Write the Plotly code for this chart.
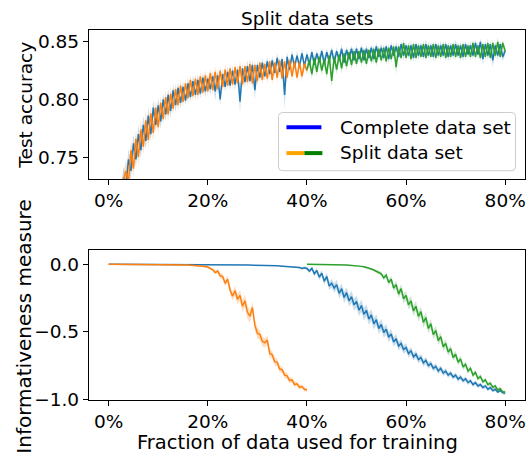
import numpy as np
import plotly.graph_objects as go

# ---------------- data ----------------
# x = fraction of data used for training, in percent
x_ticks = [0, 20, 40, 60, 80]
x_tick_labels = ["0%", "20%", "40%", "60%", "80%"]

# Test accuracy, complete data set (0% .. 80%, step 0.5%)
acc_complete = [
    0.560, 0.600, 0.640, 0.670, 0.695, 0.715, 0.732, 0.726, 0.748, 0.738,
    0.762, 0.748, 0.770, 0.756, 0.778, 0.764, 0.786, 0.770, 0.793, 0.778,
    0.795, 0.781, 0.800, 0.787, 0.804, 0.790, 0.808, 0.795, 0.810, 0.797,
    0.811, 0.799, 0.814, 0.802, 0.816, 0.804, 0.817, 0.805, 0.819, 0.807,
    0.818, 0.809, 0.820, 0.807, 0.821, 0.800, 0.822, 0.811, 0.824, 0.812,
    0.825, 0.813, 0.826, 0.798, 0.827, 0.815, 0.829, 0.816, 0.830, 0.808,
    0.830, 0.819, 0.832, 0.820, 0.833, 0.822, 0.834, 0.823, 0.836, 0.824,
    0.835, 0.804, 0.837, 0.826, 0.839, 0.828, 0.838, 0.829, 0.840, 0.829,
    0.839, 0.830, 0.841, 0.830, 0.840, 0.832, 0.842, 0.831, 0.841, 0.833,
    0.843, 0.832, 0.842, 0.834, 0.844, 0.832, 0.843, 0.835, 0.844, 0.834,
    0.844, 0.835, 0.845, 0.834, 0.844, 0.836, 0.845, 0.835, 0.846, 0.837,
    0.845, 0.836, 0.846, 0.835, 0.847, 0.838, 0.846, 0.837, 0.848, 0.838,
    0.847, 0.838, 0.847, 0.836, 0.848, 0.838, 0.847, 0.837, 0.848, 0.838,
    0.847, 0.837, 0.848, 0.838, 0.847, 0.838, 0.848, 0.837, 0.847, 0.838,
    0.848, 0.838, 0.847, 0.837, 0.848, 0.839, 0.847, 0.838, 0.849, 0.839,
    0.850, 0.835, 0.848, 0.838, 0.848, 0.834, 0.847, 0.838, 0.848, 0.837,
    0.842,
]
acc_complete_std = [
    0.010, 0.010, 0.010, 0.010, 0.009, 0.009, 0.009, 0.008, 0.009, 0.008,
    0.008, 0.007, 0.008, 0.007, 0.008, 0.007, 0.007, 0.006, 0.007, 0.006,
    0.006, 0.007, 0.005, 0.006, 0.005, 0.006, 0.005, 0.006, 0.005, 0.005,
    0.005, 0.004, 0.005, 0.004, 0.005, 0.004, 0.005, 0.004, 0.004, 0.005,
    0.004, 0.005, 0.004, 0.008, 0.004, 0.005, 0.004, 0.004, 0.005, 0.004,
    0.004, 0.005, 0.004, 0.009, 0.004, 0.004, 0.005, 0.004, 0.004, 0.008,
    0.004, 0.003, 0.004, 0.003, 0.004, 0.003, 0.004, 0.003, 0.004, 0.003,
    0.004, 0.012, 0.004, 0.003, 0.004, 0.003, 0.004, 0.003, 0.004, 0.003,
    0.003, 0.004, 0.003, 0.004, 0.003, 0.004, 0.003, 0.004, 0.003, 0.004,
    0.003, 0.004, 0.003, 0.003, 0.004, 0.003, 0.003, 0.004, 0.003, 0.003,
    0.003, 0.004, 0.003, 0.003, 0.004, 0.003, 0.003, 0.004, 0.003, 0.003,
    0.004, 0.003, 0.003, 0.004, 0.003, 0.003, 0.004, 0.003, 0.003, 0.004,
    0.003, 0.003, 0.004, 0.003, 0.003, 0.004, 0.003, 0.003, 0.004, 0.003,
    0.003, 0.004, 0.003, 0.003, 0.004, 0.003, 0.003, 0.004, 0.003, 0.003,
    0.004, 0.003, 0.003, 0.004, 0.003, 0.003, 0.004, 0.003, 0.003, 0.004,
    0.003, 0.005, 0.003, 0.004, 0.003, 0.006, 0.003, 0.004, 0.003, 0.004,
    0.003,
]

# Test accuracy, split data set, first half (0% .. 40%)
acc_split_a = [
    0.550, 0.595, 0.635, 0.668, 0.690, 0.712, 0.730, 0.738, 0.728, 0.756,
    0.740, 0.766, 0.750, 0.774, 0.759, 0.782, 0.765, 0.788, 0.771, 0.793,
    0.776, 0.797, 0.783, 0.802, 0.787, 0.805, 0.792, 0.809, 0.795, 0.812,
    0.798, 0.814, 0.801, 0.817, 0.803, 0.818, 0.804, 0.820, 0.806, 0.821,
    0.807, 0.823, 0.808, 0.824, 0.809, 0.825, 0.811, 0.826, 0.812, 0.827,
    0.813, 0.828, 0.814, 0.829, 0.813, 0.829, 0.815, 0.831, 0.814, 0.830,
    0.816, 0.832, 0.817, 0.831, 0.818, 0.833, 0.817, 0.832, 0.819, 0.834,
    0.818, 0.833, 0.819, 0.834, 0.820, 0.833, 0.819, 0.832, 0.820, 0.831,
    0.825,
]
acc_split_a_std = [
    0.010, 0.010, 0.010, 0.010, 0.010, 0.009, 0.009, 0.009, 0.008, 0.009,
    0.008, 0.008, 0.007, 0.008, 0.007, 0.008, 0.007, 0.006, 0.007, 0.006,
    0.006, 0.006, 0.005, 0.006, 0.005, 0.006, 0.005, 0.005, 0.005, 0.005,
    0.005, 0.004, 0.005, 0.004, 0.005, 0.004, 0.005, 0.004, 0.004, 0.005,
    0.004, 0.004, 0.004, 0.005, 0.004, 0.004, 0.004, 0.005, 0.004, 0.004,
    0.004, 0.004, 0.004, 0.005, 0.004, 0.004, 0.004, 0.004, 0.004, 0.004,
    0.004, 0.003, 0.004, 0.003, 0.004, 0.003, 0.004, 0.003, 0.004, 0.003,
    0.004, 0.003, 0.004, 0.003, 0.004, 0.003, 0.004, 0.003, 0.004, 0.003,
    0.003,
]

# Test accuracy, split data set, second half (40% .. 80%)
acc_split_b = [
    0.826, 0.834, 0.822, 0.836, 0.824, 0.837, 0.825, 0.835, 0.822, 0.838,
    0.816, 0.837, 0.826, 0.839, 0.827, 0.840, 0.829, 0.841, 0.830, 0.842,
    0.831, 0.842, 0.832, 0.843, 0.831, 0.843, 0.833, 0.844, 0.832, 0.844,
    0.834, 0.845, 0.833, 0.845, 0.835, 0.846, 0.828, 0.846, 0.836, 0.849,
    0.836, 0.847, 0.835, 0.848, 0.836, 0.847, 0.837, 0.848, 0.836, 0.847,
    0.837, 0.848, 0.836, 0.847, 0.837, 0.848, 0.836, 0.847, 0.837, 0.848,
    0.837, 0.847, 0.836, 0.848, 0.837, 0.847, 0.837, 0.849, 0.837, 0.847,
    0.836, 0.848, 0.837, 0.849, 0.836, 0.849, 0.838, 0.850, 0.837, 0.849,
    0.842,
]
acc_split_b_std = [
    0.004, 0.004, 0.004, 0.004, 0.004, 0.004, 0.004, 0.004, 0.004, 0.004,
    0.006, 0.004, 0.004, 0.004, 0.004, 0.004, 0.004, 0.004, 0.004, 0.004,
    0.003, 0.003, 0.003, 0.003, 0.003, 0.003, 0.003, 0.003, 0.003, 0.003,
    0.003, 0.003, 0.003, 0.003, 0.003, 0.003, 0.006, 0.003, 0.003, 0.004,
    0.003, 0.003, 0.003, 0.003, 0.003, 0.003, 0.003, 0.003, 0.003, 0.003,
    0.003, 0.003, 0.003, 0.003, 0.003, 0.003, 0.003, 0.003, 0.003, 0.003,
    0.003, 0.003, 0.003, 0.003, 0.003, 0.003, 0.003, 0.003, 0.003, 0.003,
    0.003, 0.003, 0.003, 0.004, 0.003, 0.003, 0.003, 0.004, 0.003, 0.003,
    0.003,
]

# Informativeness measure, complete data set (0% .. 80%)
info_complete = [
    0.000, 0.000, 0.000, 0.000, 0.000, 0.000, 0.000, 0.000, 0.000, 0.000,
    0.000, 0.000, 0.000, 0.000, 0.000, 0.000, 0.000, 0.000, 0.000, 0.000,
    0.000, 0.000, 0.000, 0.000, 0.000, 0.000, 0.000, 0.000, -0.001, -0.001,
    -0.001, -0.001, -0.001, -0.001, -0.001, -0.001, -0.001, -0.001, -0.002, -0.002,
    -0.002, -0.002, -0.002, -0.002, -0.002, -0.003, -0.003, -0.003, -0.003, -0.003,
    -0.003, -0.004, -0.004, -0.004, -0.004, -0.005, -0.005, -0.005, -0.006, -0.006,
    -0.006, -0.007, -0.007, -0.008, -0.008, -0.009, -0.009, -0.010, -0.011, -0.012,
    -0.013, -0.014, -0.015, -0.016, -0.018, -0.020, -0.022, -0.024, -0.030, -0.026,
    -0.030, -0.050, -0.030, -0.070, -0.045, -0.095, -0.065, -0.125, -0.090, -0.160,
    -0.140, -0.175, -0.150, -0.215, -0.180, -0.245, -0.210, -0.270, -0.240, -0.300,
    -0.275, -0.340, -0.305, -0.370, -0.340, -0.405, -0.375, -0.440, -0.410, -0.475,
    -0.445, -0.505, -0.480, -0.540, -0.515, -0.575, -0.550, -0.605, -0.585, -0.630,
    -0.615, -0.660, -0.640, -0.685, -0.665, -0.705, -0.690, -0.730, -0.710, -0.750,
    -0.735, -0.770, -0.755, -0.790, -0.770, -0.805, -0.790, -0.820, -0.805, -0.835,
    -0.820, -0.850, -0.835, -0.862, -0.848, -0.875, -0.862, -0.890, -0.875, -0.900,
    -0.890, -0.912, -0.900, -0.925, -0.912, -0.935, -0.925, -0.945, -0.935, -0.950,
    -0.955,
]
info_complete_std = [
    0.000, 0.000, 0.000, 0.000, 0.000, 0.000, 0.000, 0.000, 0.000, 0.000,
    0.000, 0.000, 0.000, 0.000, 0.000, 0.000, 0.000, 0.000, 0.000, 0.000,
    0.000, 0.000, 0.000, 0.000, 0.000, 0.000, 0.000, 0.000, 0.000, 0.000,
    0.000, 0.000, 0.000, 0.000, 0.000, 0.000, 0.000, 0.000, 0.000, 0.000,
    0.000, 0.000, 0.000, 0.000, 0.000, 0.000, 0.000, 0.000, 0.000, 0.000,
    0.000, 0.000, 0.000, 0.000, 0.000, 0.000, 0.000, 0.000, 0.000, 0.000,
    0.000, 0.000, 0.000, 0.000, 0.000, 0.000, 0.000, 0.000, 0.000, 0.000,
    0.001, 0.001, 0.002, 0.002, 0.003, 0.004, 0.005, 0.006, 0.008, 0.010,
    0.012, 0.014, 0.016, 0.018, 0.020, 0.022, 0.024, 0.026, 0.028, 0.030,
    0.032, 0.034, 0.036, 0.038, 0.040, 0.040, 0.042, 0.042, 0.044, 0.044,
    0.045, 0.045, 0.045, 0.045, 0.044, 0.044, 0.043, 0.042, 0.041, 0.040,
    0.040, 0.039, 0.038, 0.037, 0.036, 0.035, 0.034, 0.033, 0.032, 0.031,
    0.030, 0.030, 0.029, 0.028, 0.028, 0.027, 0.026, 0.026, 0.025, 0.025,
    0.024, 0.024, 0.023, 0.023, 0.022, 0.022, 0.021, 0.021, 0.020, 0.020,
    0.020, 0.019, 0.019, 0.018, 0.018, 0.018, 0.017, 0.017, 0.016, 0.016,
    0.016, 0.015, 0.015, 0.015, 0.014, 0.014, 0.014, 0.013, 0.013, 0.013,
    0.012,
]

# Informativeness measure, split data set, first half (0% .. 40%)
info_split_a = [
    0.000, 0.000, 0.000, 0.000, 0.000, 0.000, 0.000, 0.000, 0.000, 0.000,
    0.000, 0.000, 0.000, 0.000, 0.000, 0.000, 0.000, 0.000, 0.000, 0.000,
    0.000, 0.000, -0.001, -0.001, -0.001, -0.001, -0.002, -0.002, -0.002, -0.003,
    -0.003, -0.004, -0.005, -0.006, -0.007, -0.008, -0.010, -0.011, -0.013, -0.016,
    -0.020, -0.030, -0.040, -0.060, -0.050, -0.085, -0.090, -0.140, -0.110, -0.190,
    -0.235, -0.195, -0.260, -0.230, -0.310, -0.270, -0.355, -0.385, -0.320, -0.450,
    -0.510, -0.520, -0.570, -0.580, -0.560, -0.660, -0.670, -0.720, -0.725, -0.775,
    -0.780, -0.820, -0.825, -0.860, -0.855, -0.890, -0.885, -0.910, -0.905, -0.925,
    -0.930,
]
info_split_a_std = [
    0.000, 0.000, 0.000, 0.000, 0.000, 0.000, 0.000, 0.000, 0.000, 0.000,
    0.000, 0.000, 0.000, 0.000, 0.000, 0.000, 0.000, 0.000, 0.000, 0.000,
    0.000, 0.000, 0.000, 0.000, 0.000, 0.000, 0.000, 0.000, 0.000, 0.000,
    0.001, 0.001, 0.002, 0.002, 0.003, 0.003, 0.004, 0.005, 0.006, 0.007,
    0.008, 0.010, 0.012, 0.015, 0.018, 0.020, 0.022, 0.025, 0.028, 0.030,
    0.032, 0.035, 0.038, 0.040, 0.042, 0.045, 0.050, 0.045, 0.042, 0.040,
    0.040, 0.038, 0.036, 0.035, 0.033, 0.032, 0.030, 0.030, 0.028, 0.026,
    0.025, 0.024, 0.022, 0.022, 0.020, 0.020, 0.018, 0.018, 0.016, 0.016,
    0.015,
]

# Informativeness measure, split data set, second half (40% .. 80%)
info_split_b = [
    0.000, 0.000, 0.000, 0.000, 0.000, -0.001, -0.001, -0.001, -0.001, -0.002,
    -0.002, -0.002, -0.003, -0.003, -0.004, -0.004, -0.005, -0.006, -0.007, -0.008,
    -0.010, -0.012, -0.015, -0.018, -0.022, -0.028, -0.035, -0.042, -0.050, -0.060,
    -0.070, -0.100, -0.080, -0.135, -0.110, -0.175, -0.150, -0.220, -0.180, -0.255,
    -0.230, -0.300, -0.270, -0.345, -0.310, -0.385, -0.350, -0.430, -0.395, -0.475,
    -0.440, -0.520, -0.490, -0.565, -0.535, -0.610, -0.585, -0.650, -0.625, -0.690,
    -0.665, -0.725, -0.700, -0.760, -0.740, -0.790, -0.770, -0.820, -0.800, -0.845,
    -0.830, -0.870, -0.855, -0.890, -0.880, -0.910, -0.900, -0.930, -0.920, -0.945,
    -0.945,
]
info_split_b_std = [
    0.000, 0.000, 0.000, 0.000, 0.000, 0.000, 0.000, 0.000, 0.000, 0.000,
    0.000, 0.000, 0.000, 0.000, 0.000, 0.001, 0.001, 0.001, 0.002, 0.002,
    0.003, 0.003, 0.004, 0.005, 0.006, 0.007, 0.008, 0.010, 0.012, 0.014,
    0.016, 0.018, 0.020, 0.022, 0.024, 0.026, 0.028, 0.030, 0.032, 0.034,
    0.035, 0.036, 0.037, 0.038, 0.038, 0.038, 0.038, 0.038, 0.037, 0.036,
    0.035, 0.034, 0.033, 0.032, 0.031, 0.030, 0.029, 0.028, 0.027, 0.026,
    0.025, 0.024, 0.023, 0.022, 0.021, 0.020, 0.020, 0.019, 0.018, 0.018,
    0.017, 0.016, 0.016, 0.015, 0.015, 0.014, 0.014, 0.013, 0.013, 0.012,
    0.012,
]

# ---------------- figure ----------------
W, H = 532, 460
FONT = "DejaVu Sans"
FS = 18.5
C_BLUE, C_ORANGE, C_GREEN = "#1f77b4", "#ff7f0e", "#2ca02c"
F_BLUE, F_ORANGE, F_GREEN = ("rgba(31,119,180,0.25)", "rgba(255,127,14,0.25)",
                             "rgba(44,160,44,0.25)")

def px_x(p):
    return p / W

def px_y(p):
    return 1 - p / H

x_complete = np.linspace(0, 80, len(acc_complete))
x_half_a = np.linspace(0, 40, len(acc_split_a))
x_half_b = np.linspace(40, 80, len(acc_split_b))

fig = go.Figure()

def add_series(x, mean, std, color, fill, xa, ya):
    mean = np.asarray(mean)
    std = np.asarray(std)
    fig.add_trace(go.Scatter(x=x, y=mean - std, mode="lines", line=dict(width=0),
                             showlegend=False, hoverinfo="skip", xaxis=xa, yaxis=ya))
    fig.add_trace(go.Scatter(x=x, y=mean + std, mode="lines", line=dict(width=0),
                             fill="tonexty", fillcolor=fill, showlegend=False,
                             hoverinfo="skip", xaxis=xa, yaxis=ya))
    fig.add_trace(go.Scatter(x=x, y=mean, mode="lines", line=dict(color=color, width=1.5),
                             showlegend=False, xaxis=xa, yaxis=ya))

add_series(x_complete, acc_complete, acc_complete_std, C_BLUE, F_BLUE, "x", "y")
add_series(x_half_a, acc_split_a, acc_split_a_std, C_ORANGE, F_ORANGE, "x", "y")
add_series(x_half_b, acc_split_b, acc_split_b_std, C_GREEN, F_GREEN, "x", "y")

add_series(x_complete, info_complete, info_complete_std, C_BLUE, F_BLUE, "x2", "y2")
add_series(x_half_a, info_split_a, info_split_a_std, C_ORANGE, F_ORANGE, "x2", "y2")
add_series(x_half_b, info_split_b, info_split_b_std, C_GREEN, F_GREEN, "x2", "y2")

ax_left, ax_right = 89, 526
top_t, top_b = 31, 183
bot_t, bot_b = 256, 409

common_x = dict(range=[-4, 84], tickvals=x_ticks, ticktext=x_tick_labels,
                showgrid=False, zeroline=False, showline=True, mirror=True,
                linecolor="black", linewidth=1, ticks="outside", ticklen=5,
                tickcolor="black", tickfont=dict(family=FONT, size=FS, color="black"),
                domain=[px_x(ax_left), px_x(ax_right)])
common_y = dict(showgrid=False, zeroline=False, showline=True, mirror=True,
                linecolor="black", linewidth=1, ticks="outside", ticklen=5,
                tickcolor="black", tickfont=dict(family=FONT, size=FS, color="black"))

fig.update_layout(
    width=W, height=H, margin=dict(l=0, r=0, t=0, b=0),
    paper_bgcolor="white", plot_bgcolor="white", showlegend=False,
    hovermode=False,
    xaxis=dict(**common_x, anchor="y"),
    yaxis=dict(**common_y, range=[0.731, 0.860], tickvals=[0.75, 0.80, 0.85],
               tickformat=".2f", domain=[px_y(top_b), px_y(top_t)], anchor="x"),
    xaxis2=dict(**common_x, anchor="y2"),
    yaxis2=dict(**common_y, range=[-1.005, 0.103], tickvals=[-1.0, -0.5, 0.0],
                tickformat=".1f", domain=[px_y(bot_b), px_y(bot_t)], anchor="x2"),
)

annots = [
    dict(text="Split data sets", x=px_x((ax_left + ax_right) / 2), y=px_y(19), size=FS),
    dict(text="Test accuracy", x=px_x(26), y=px_y((top_t + top_b) / 2), textangle=-90,
         size=FS),
    dict(text="Informativeness measure", x=px_x(24), y=px_y(334), textangle=-90,
         size=20),
    dict(text="Fraction of data used for training", x=px_x(298), y=px_y(452), size=19.5),
    dict(text="Complete data set", x=px_x(339), y=px_y(130), xanchor="left", size=FS),
    dict(text="Split data set", x=px_x(339), y=px_y(155.5), xanchor="left", size=FS),
]
for a in annots:
    a.setdefault("xanchor", "center")
    size = a.pop("size")
    a.update(xref="paper", yref="paper", yanchor="middle", showarrow=False,
             font=dict(family=FONT, color="black", size=size))
    fig.add_annotation(**a)

def rounded_rect(x0, y0, x1, y1, r):
    pts = lambda x, y: f"{px_x(x):.5f},{px_y(y):.5f}"
    return (f"M {pts(x0 + r, y0)} L {pts(x1 - r, y0)} Q {pts(x1, y0)} {pts(x1, y0 + r)} "
            f"L {pts(x1, y1 - r)} Q {pts(x1, y1)} {pts(x1 - r, y1)} "
            f"L {pts(x0 + r, y1)} Q {pts(x0, y1)} {pts(x0, y1 - r)} "
            f"L {pts(x0, y0 + r)} Q {pts(x0, y0)} {pts(x0 + r, y0)} Z")

fig.add_shape(type="path", path=rounded_rect(279, 115, 516.5, 174.5, 4),
              xref="paper", yref="paper", fillcolor="rgba(255,255,255,0.8)",
              line=dict(color="#cccccc", width=1))
fig.add_shape(type="line", xref="paper", yref="paper", x0=px_x(287), x1=px_x(322),
              y0=px_y(130), y1=px_y(130), line=dict(color="#0000ff", width=4))
fig.add_shape(type="line", xref="paper", yref="paper", x0=px_x(287), x1=px_x(305),
              y0=px_y(156.5), y1=px_y(156.5), line=dict(color="#ffa500", width=4))
fig.add_shape(type="line", xref="paper", yref="paper", x0=px_x(305), x1=px_x(323),
              y0=px_y(156.5), y1=px_y(156.5), line=dict(color="#008000", width=4))

fig.write_html("out.html")
